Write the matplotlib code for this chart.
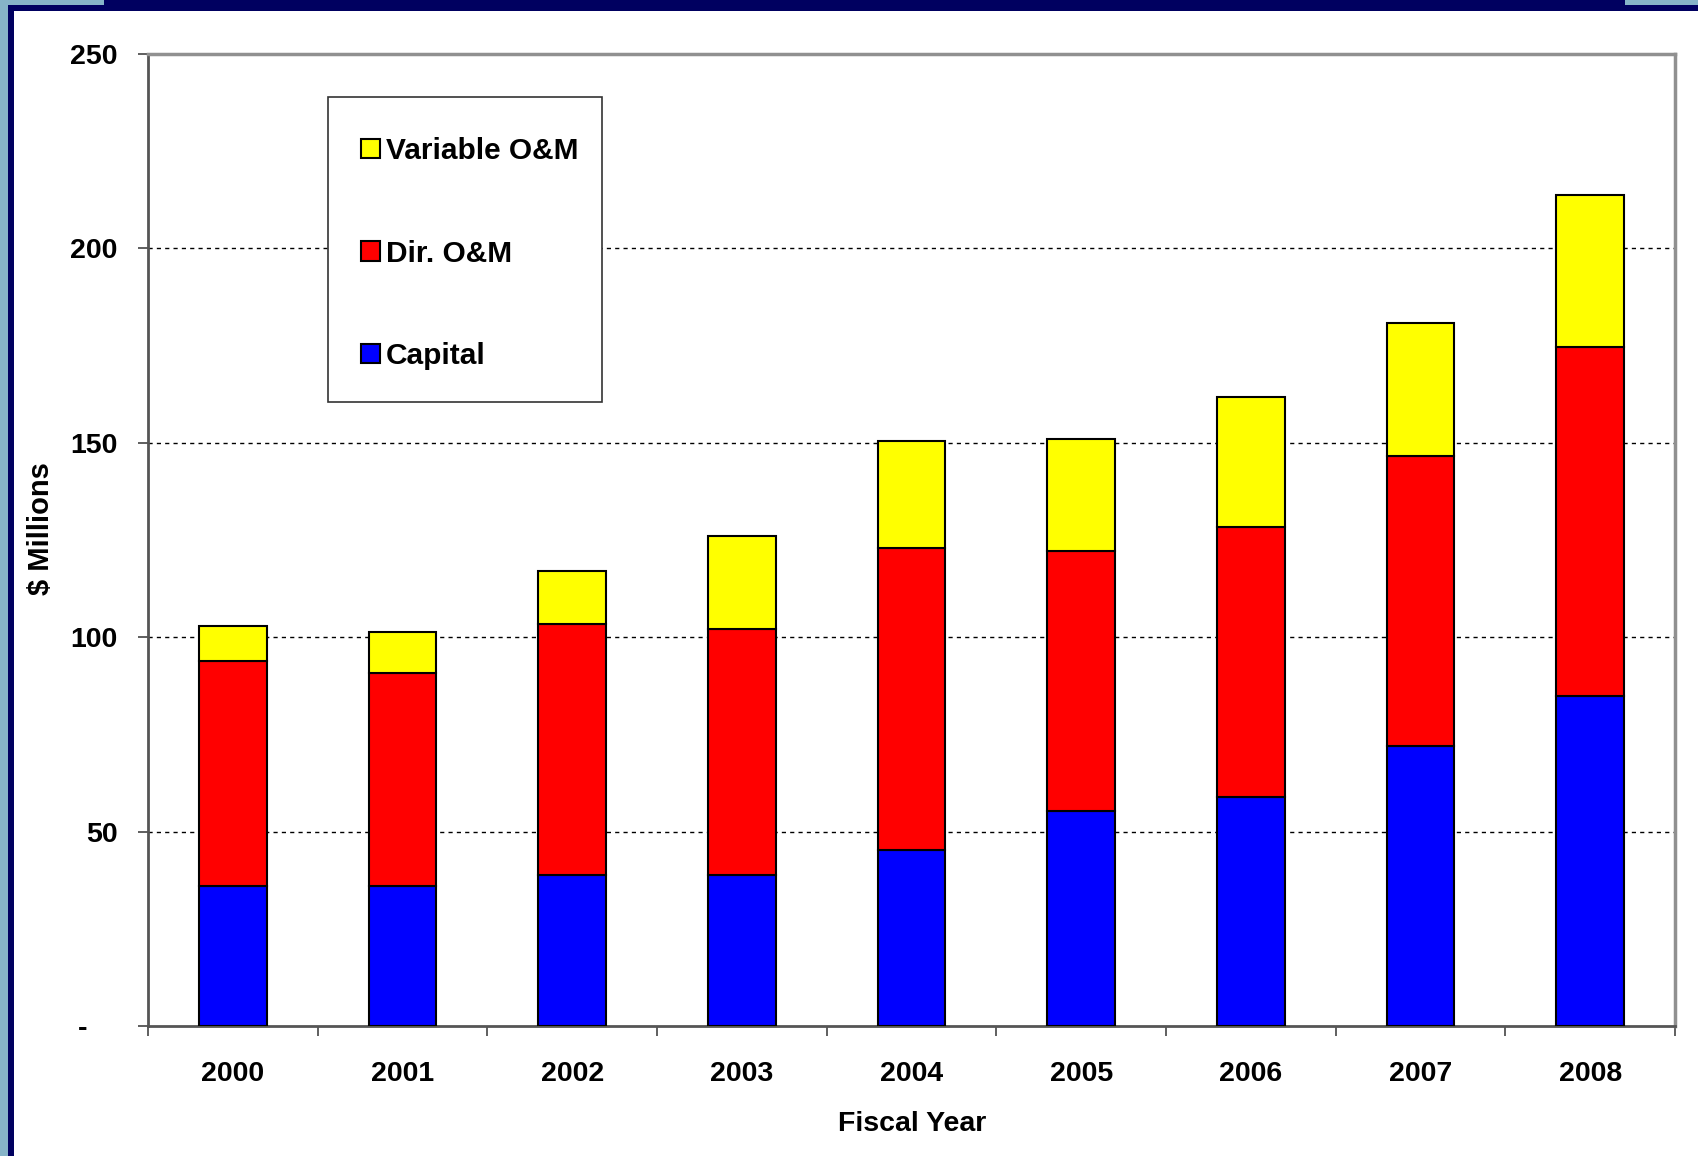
import numpy as np
import matplotlib
matplotlib.use("Agg")
import matplotlib.pyplot as plt
from matplotlib.patches import Rectangle, Patch

plt.rcParams['font.family'] = ['Liberation Sans', 'DejaVu Sans']
plt.rcParams['font.weight'] = 'bold'

# data ($ millions)
years = ['2000', '2001', '2002', '2003', '2004', '2005', '2006', '2007', '2008']
capital = [36.0, 36.0, 38.8, 38.8, 45.2, 55.2, 58.9, 72.0, 84.8]
dir_om = [57.8, 54.7, 64.7, 63.3, 77.8, 67.0, 69.4, 74.5, 89.9]
var_om = [9.2, 10.6, 13.4, 24.0, 27.4, 28.8, 33.5, 34.3, 39.0]
yticks = [0, 50, 100, 150, 200, 250]
ytick_labels = ['-', '50', '100', '150', '200', '250']

W, H = 1698, 1156
fig = plt.figure(figsize=(W / 100, H / 100), dpi=100)

def px(x0, y0, x1, y1, color, **kw):
    # rectangle given in pixel coords (top-left origin)
    r = Rectangle((x0 / W, 1 - y1 / H), (x1 - x0) / W, (y1 - y0) / H,
                  transform=fig.transFigure, **kw)
    if 'facecolor' not in kw:
        r.set_color(color)
        r.set_linewidth(0)
    fig.add_artist(r)
    return r

# slide frame bits
px(0, 0, 8, H, '#86b4c8', zorder=0)
px(0, 0, 104, 5, '#86b4c8', zorder=0)
px(1625, 0, W, 5, '#86b4c8', zorder=0)
px(8, 5, 14, H, '#000060', zorder=0)
px(8, 5, 1625, 11, '#000060', zorder=0)
px(104, 0, 1625, 5, '#000060', zorder=0)
px(1625, 5, W, 11, '#000060', zorder=0)

ax = fig.add_axes([148 / W, 1 - 1026 / H, (1675 - 148) / W, (1026 - 54) / H])

x = np.arange(len(years))
bw = 0.40
cap = np.array(capital)
dom = np.array(dir_om)
vom = np.array(var_om)
ax.bar(x, cap, bw, color='#0000ff', edgecolor='black', lw=1.5, zorder=3)
ax.bar(x, dom, bw, bottom=cap, color='#ff0000', edgecolor='black', lw=1.5, zorder=3)
ax.bar(x, vom, bw, bottom=cap + dom, color='#ffff00', edgecolor='black', lw=1.5, zorder=3)

ax.set_xlim(-0.5, len(years) - 0.5)
ax.set_ylim(0, 250)

ax.set_yticks(yticks)
ax.set_yticklabels(ytick_labels, fontsize=20.5, fontweight='bold')
ax.tick_params(axis='y', length=7, width=1.2, pad=15, color='#444444')
# the zero dash sits further left, like Excel's accounting format
ax.yaxis.get_major_ticks()[0].label1.set_x(-30 / 1527)

ax.set_xticks(np.arange(len(years) + 1) - 0.5)
ax.set_xticklabels([])
ax.tick_params(axis='x', which='major', length=7, width=1.2, color='#444444')
ax.set_xticks(x, minor=True)
ax.set_xticklabels(years, minor=True, fontsize=20.5, fontweight='bold')
ax.tick_params(axis='x', which='minor', length=0, pad=25)

for v in yticks[1:-1]:
    ax.axhline(v, color='black', lw=1.0, ls=(0, (3, 3)), zorder=1)

for s in ['left', 'bottom']:
    ax.spines[s].set_color('#555555')
    ax.spines[s].set_linewidth(2)
for s in ['top', 'right']:
    ax.spines[s].set_color('#909090')
    ax.spines[s].set_linewidth(2.5)

fig.text(41 / W, 1 - 529 / H, '$ Millions', rotation=90, ha='center', va='center',
         fontsize=21, fontweight='bold')
fig.text(912 / W, 1 - 1124 / H, 'Fiscal Year', ha='center', va='center',
         fontsize=20.5, fontweight='bold')

# legend box drawn separately so its padding can differ per side
px(328, 97, 602, 402, None, facecolor='white', edgecolor='#333333', lw=1.2, zorder=4)
handles = [Patch(facecolor='#ffff00', edgecolor='black', lw=1.5),
           Patch(facecolor='#ff0000', edgecolor='black', lw=1.5),
           Patch(facecolor='#0000ff', edgecolor='black', lw=1.5)]
leg = fig.legend(handles, ['Variable O&M', 'Dir. O&M', 'Capital'],
                 loc='upper left', bbox_to_anchor=(361 / W, 1 - 137 / H),
                 borderaxespad=0, borderpad=0, frameon=False,
                 prop={'size': 21.5, 'weight': 'bold'},
                 handlelength=0.62, handleheight=0.62, handletextpad=0.22,
                 labelspacing=2.5)
leg.set_zorder(5)

fig.savefig('out.png', dpi=100)
